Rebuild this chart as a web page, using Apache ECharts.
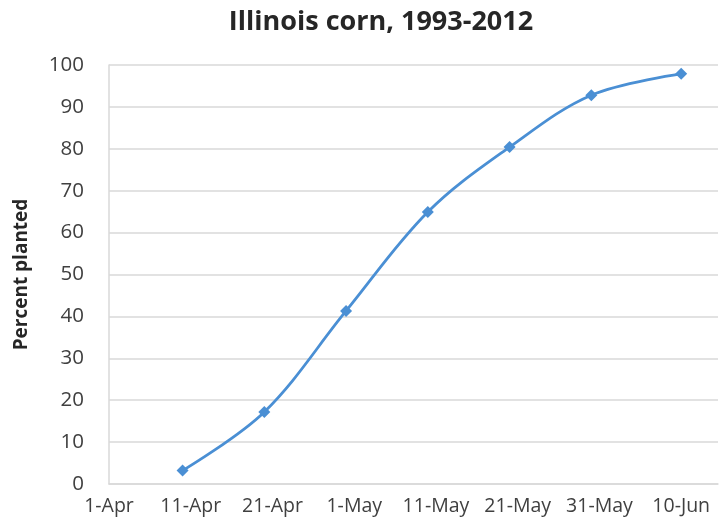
<!DOCTYPE html>
<html>
<head>
<meta charset="utf-8">
<script src="https://cdn.jsdelivr.net/npm/echarts@6/dist/echarts.min.js"></script>
<style>
html,body{margin:0;padding:0;background:#fff;}
#chart{width:719px;height:525px;}
</style>
</head>
<body>
<div id="chart"></div>
<script>
const dayOffsets = [9, 19, 29, 39, 49, 59, 70];
const percentPlanted = [3.2, 17.2, 41.3, 64.9, 80.4, 92.8, 97.9];
// Tick labels for the date axis (every 10 days from 1-Apr)
const tickLabels = ['1-Apr', '11-Apr', '21-Apr', '1-May', '11-May', '21-May', '31-May', '10-Jun'];

const seriesData = dayOffsets.map((d, i) => [d, percentPlanted[i]]);
const font = '"Open Sans", "DejaVu Sans", sans-serif';

const chart = echarts.init(document.getElementById('chart'));
chart.setOption({
  backgroundColor: '#ffffff',
  animation: false,
  title: {
    text: 'Illinois corn, 1993-2012',
    left: 376,
    textAlign: 'center',
    top: 4,
    textStyle: { fontFamily: font, fontSize: 27, fontWeight: 'bold', color: '#262626' }
  },
  grid: { left: 109, right: 1, top: 65, bottom: 41 },
  xAxis: {
    type: 'value',
    min: 0,
    max: 74.5,
    interval: 10,
    axisLine: { show: true, lineStyle: { color: '#d9d9d9', width: 1.5 } },
    axisTick: { show: false },
    splitLine: { show: false },
    axisLabel: {
      showMaxLabel: false,
      margin: 12,
      fontFamily: font, fontSize: 19.5, color: '#404040',
      formatter: v => tickLabels[Math.round(v / 10)] || ''
    }
  },
  yAxis: {
    type: 'value',
    min: 0,
    max: 100,
    interval: 10,
    name: 'Percent planted',
    nameLocation: 'middle',
    nameGap: 78,
    nameTextStyle: { fontFamily: font, fontSize: 19, fontWeight: 'bold', color: '#262626' },
    axisLine: { show: true, lineStyle: { color: '#d9d9d9', width: 1.5 } },
    axisTick: { show: false },
    splitLine: { lineStyle: { color: '#d9d9d9', width: 1.5 } },
    axisLabel: { margin: 25, fontFamily: font, fontSize: 20.5, color: '#404040' }
  },
  series: [{
    type: 'line',
    data: seriesData,
    smooth: 0.35,
    symbol: 'diamond',
    symbolSize: 12,
    lineStyle: { color: '#4a8fd4', width: 2.8 },
    itemStyle: { color: '#4a8fd4' }
  }]
});
</script>
</body>
</html>
